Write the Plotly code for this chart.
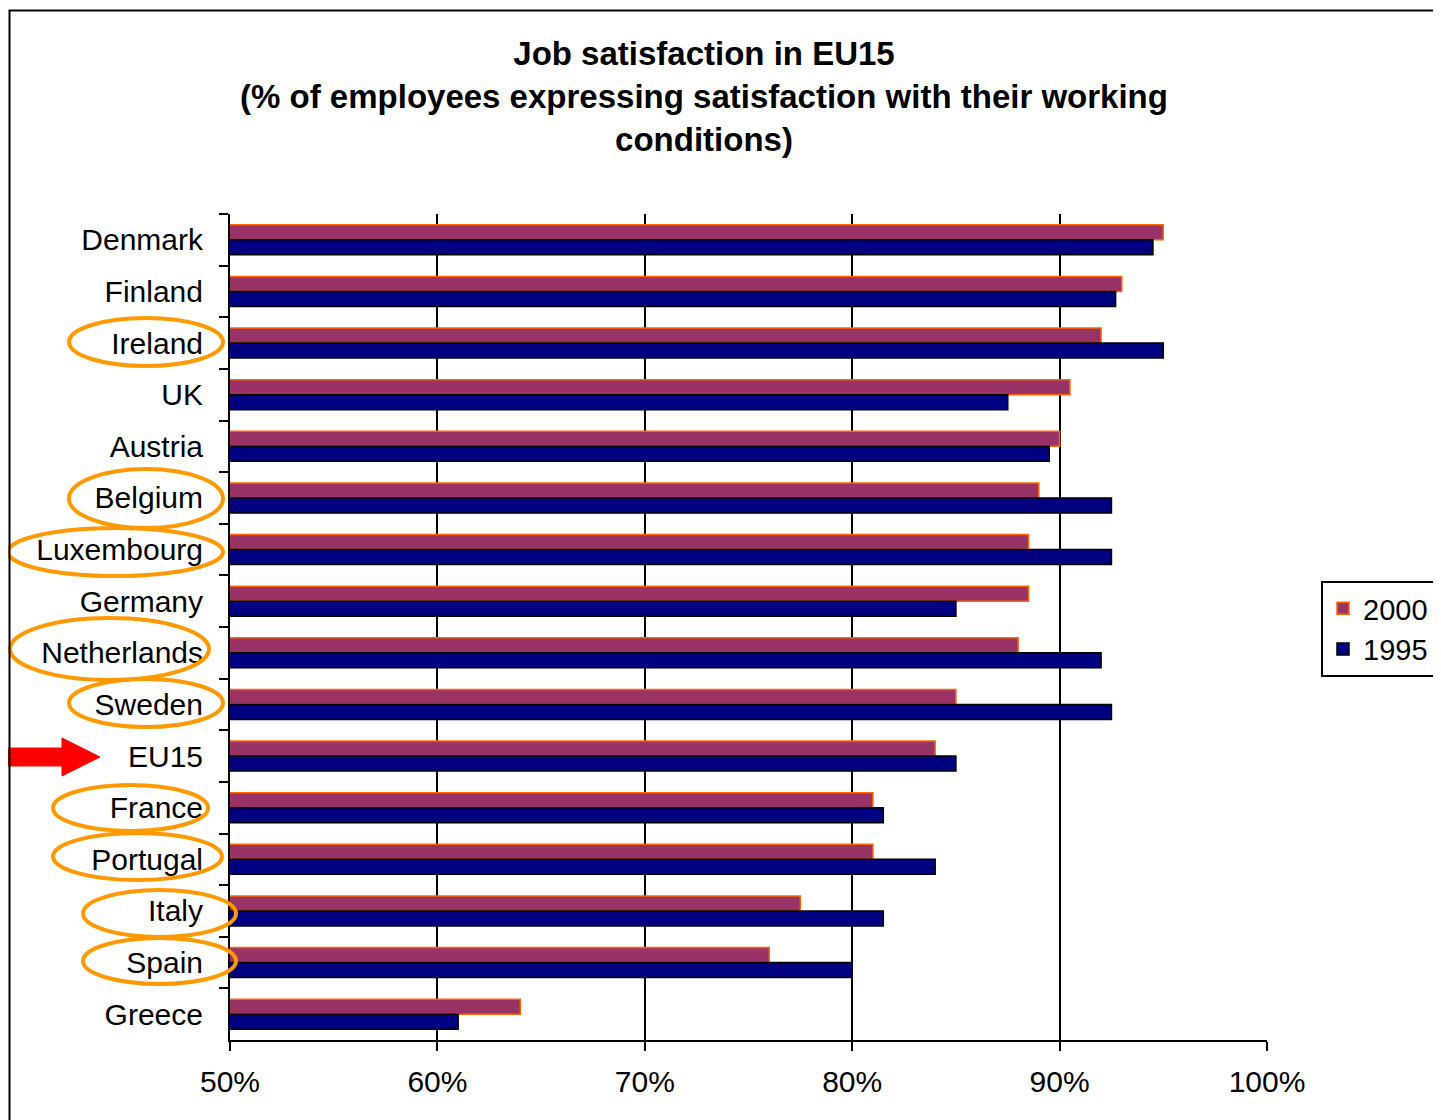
import plotly.graph_objects as go

countries = ["Denmark", "Finland", "Ireland", "UK", "Austria", "Belgium", "Luxembourg",
             "Germany", "Netherlands", "Sweden", "EU15", "France", "Portugal", "Italy",
             "Spain", "Greece"]
sat_2000 = [95, 93, 92, 90.5, 90, 89, 88.5, 88.5, 88, 85, 84, 81, 81, 77.5, 76, 64]
sat_1995 = [94.5, 92.7, 95, 87.5, 89.5, 92.5, 92.5, 85, 92, 92.5, 85, 81.5, 84, 81.5, 80, 61]
x_ticks = [50, 60, 70, 80, 90, 100]
x_tick_labels = [f"{v}%" for v in x_ticks]
circled = ["Ireland", "Belgium", "Luxembourg", "Netherlands", "Sweden", "France",
           "Portugal", "Italy", "Spain"]

# page is rendered with an 8px body margin, so the figure sits at (8, 8)
OFF = 8
W, H = 1441 - OFF, 1120 - OFF
PLOT_L, PLOT_R, PLOT_T, PLOT_B = 230, 1267, 214, 1040  # page pixels
L, T = PLOT_L - OFF, PLOT_T - OFF
R, B = W - (PLOT_R - OFF), H - (PLOT_B - OFF)
PW, PH = PLOT_R - PLOT_L, PLOT_B - PLOT_T


def px(x):
    return (x - PLOT_L) / PW


def py(y):
    return (PLOT_B - y) / PH


FONT = "Liberation Sans, Arial, sans-serif"

fig = go.Figure()
fig.add_trace(go.Bar(
    y=countries, x=sat_2000, orientation="h", name="2000",
    marker=dict(color="#993366", line=dict(color="#FF6600", width=1.5)),
))
fig.add_trace(go.Bar(
    y=countries, x=sat_1995, orientation="h", name="1995",
    marker=dict(color="#000080", line=dict(color="#000000", width=1.5)),
))

# decoration geometry (page pixels): ellipses around circled labels
ellipse_px = {
    "Ireland": (69, 318, 223, 366),
    "Belgium": (69, 469, 223, 528),
    "Luxembourg": (8, 528, 223, 576),
    "Netherlands": (10, 618, 209, 680),
    "Sweden": (69, 679, 223, 727),
    "France": (53, 785, 208, 831),
    "Portugal": (53, 833, 222, 880),
    "Italy": (83, 890, 236, 937),
    "Spain": (83, 938, 236, 984),
}
shapes = []
for name in circled:
    x0, y0, x1, y1 = ellipse_px[name]
    shapes.append(dict(type="circle", xref="paper", yref="paper",
                       x0=px(x0), x1=px(x1), y0=py(y1), y1=py(y0),
                       line=dict(color="#FF9900", width=4), layer="above"))

arrow_pts = [(0, 748), (62, 748), (62, 738), (100, 757), (62, 776), (62, 766), (0, 766)]
path = "M " + " L ".join(f"{px(a):.5f},{py(b):.5f}" for a, b in arrow_pts) + " Z"
shapes.append(dict(type="path", xref="paper", yref="paper", path=path,
                   fillcolor="#FF0000", line=dict(color="#FF0000", width=1)))

# outer chart border
shapes.append(dict(type="rect", xref="paper", yref="paper",
                   x0=px(9.5), x1=px(1460), y0=py(1140), y1=py(10.5),
                   line=dict(color="black", width=2)))

fig.update_layout(
    width=W, height=H,
    margin=dict(l=L, r=R, t=T, b=B, autoexpand=False),
    paper_bgcolor="white", plot_bgcolor="white",
    barmode="group", bargap=0.42, bargroupgap=0,
    font=dict(family=FONT, color="black", size=30),
    title=dict(
        text="<b>Job satisfaction in EU15<br>(% of employees expressing satisfaction with their working<br>conditions)</b>",
        x=px(704), xref="paper", xanchor="center",
        y=1 - 57 / H, yref="container", yanchor="top",
        font=dict(family=FONT, size=33, color="black"),
    ),
    xaxis=dict(
        range=[50, 100], tickmode="array", tickvals=x_ticks, ticktext=x_tick_labels,
        showgrid=True, gridcolor="black", gridwidth=1.5,
        showline=True, linecolor="black", linewidth=2,
        ticks="outside", ticklen=9, tickcolor="black", tickwidth=2,
        ticklabelstandoff=5, zeroline=False,
        tickfont=dict(size=30),
    ),
    yaxis=dict(
        categoryorder="array", categoryarray=countries, autorange="reversed",
        showline=True, linecolor="black", linewidth=2,
        ticks="outside", ticklen=9, tickcolor="black", tickwidth=2,
        tickson="boundaries", ticklabelstandoff=19, showgrid=False,
        tickfont=dict(size=30),
    ),
    legend=dict(
        x=px(1321), y=py(581), xanchor="left", yanchor="top",
        bordercolor="black", borderwidth=2, bgcolor="white",
        font=dict(size=29), traceorder="normal",
    ),
    shapes=shapes,
)

fig.write_html("out.html")
